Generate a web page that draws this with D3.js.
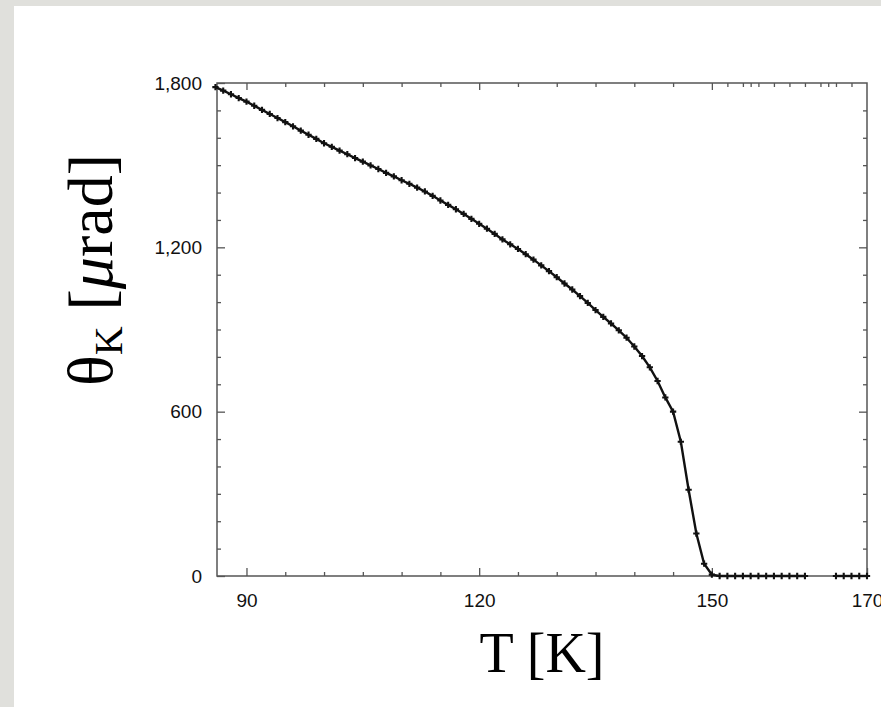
<!DOCTYPE html>
<html>
<head>
<meta charset="utf-8">
<script src="https://cdn.jsdelivr.net/npm/d3@7"></script>
<style>
  body { margin: 0; background: #e0e0dc; }
  #chart { position: absolute; left: 0; top: 0; }
</style>
</head>
<body>
<div id="chart"></div>
<script>
// temperature (K) and Kerr rotation (µrad)
var temps = [86, 87, 88, 89, 90, 91, 92, 93, 94, 95, 96, 97, 98, 99, 100,
  101, 102, 103, 104, 105, 106, 107, 108, 109, 110, 111, 112, 113, 114, 115,
  116, 117, 118, 119, 120, 121, 122, 123, 124, 125, 126, 127, 128, 129, 130,
  131, 132, 133, 134, 135, 136, 137, 138, 139, 140, 141, 142, 143, 144, 145,
  146, 147, 148, 149, 150,
  151, 152, 153, 154, 155, 156, 157, 158, 159, 160, 161, 162,
  166, 167, 168, 169, 170];
var kerr = [1785, 1772, 1759, 1745, 1732, 1717, 1702, 1687, 1672, 1657, 1642, 1626, 1611, 1596, 1580,
  1567, 1553, 1540, 1526, 1513, 1499, 1486, 1472, 1459, 1445, 1432, 1418, 1404, 1388, 1371,
  1355, 1339, 1322, 1304, 1286, 1268, 1249, 1229, 1211, 1194, 1175, 1155, 1134, 1113, 1091,
  1068, 1046, 1022, 997, 971, 946, 922, 897, 870, 838, 803, 762, 712, 652, 600,
  490, 315, 155, 45, 5,
  0, 0, 0, 0, 0, 0, 0, 0, 0, 0, 0, 0,
  0, 0, 0, 0, 0];

var xMajor = [90, 120, 150, 170];
var xMinor = [95, 100, 105, 110, 115, 125, 130, 135, 140, 145];
var xTopExtra = [152, 154, 155, 156, 158, 160, 162, 164, 165, 166, 168];
var yMajor = [0, 600, 1200, 1800];
var yMinor = [100, 200, 300, 400, 500, 700, 800, 900, 1000, 1100, 1300, 1400, 1500, 1600, 1700];

var W = 881, H = 707;
var margin = {top: 83, right: 14, bottom: 131, left: 217},
    width = W - margin.left - margin.right,
    height = H - margin.top - margin.bottom;

var svg = d3.select("#chart").append("svg")
    .attr("width", W)
    .attr("height", H);

// white panel over the grey page
svg.append("rect")
    .attr("x", 14).attr("y", 6)
    .attr("width", W - 14).attr("height", H - 6)
    .attr("fill", "#ffffff");

var g = svg.append("g")
    .attr("transform", "translate(" + margin.left + "," + margin.top + ")");

var x = d3.scaleLinear().domain([86.2, 170]).range([0, width]);
var y = d3.scaleLinear().domain([0, 1800]).range([height, 0]);

var axisColor = "#555";
var tickFont = "'Liberation Sans', Arial, sans-serif";

function styleAxis(sel) {
    sel.select(".domain").remove();
    sel.selectAll(".tick line").attr("stroke", axisColor).attr("stroke-width", 1.3);
    sel.selectAll(".tick text")
        .attr("font-family", tickFont)
        .attr("font-size", 19)
        .attr("fill", "#111");
}

// bottom axis, ticks pointing in
g.append("g")
    .attr("transform", "translate(0," + height + ")")
    .call(d3.axisBottom(x).tickValues(xMinor).tickSize(-4).tickFormat(""))
    .call(styleAxis);
g.append("g")
    .attr("transform", "translate(0," + height + ")")
    .call(d3.axisBottom(x).tickValues(xMajor).tickSize(-8).tickPadding(18).tickFormat(d3.format("d")))
    .call(styleAxis);

// top axis
g.append("g")
    .call(d3.axisTop(x).tickValues(xMinor.concat(xTopExtra)).tickSize(-4).tickFormat(""))
    .call(styleAxis);
g.append("g")
    .call(d3.axisTop(x).tickValues([90, 120, 150]).tickSize(-7).tickFormat(""))
    .call(styleAxis);

// left axis
g.append("g")
    .call(d3.axisLeft(y).tickValues(yMinor).tickSize(-4).tickFormat(""))
    .call(styleAxis);
g.append("g")
    .call(d3.axisLeft(y).tickValues(yMajor).tickSize(-8).tickPadding(15).tickFormat(d3.format(",")))
    .call(styleAxis);

// right axis
g.append("g")
    .attr("transform", "translate(" + width + ",0)")
    .call(d3.axisRight(y).tickValues(yMinor).tickSize(-4).tickFormat(""))
    .call(styleAxis);
g.append("g")
    .attr("transform", "translate(" + width + ",0)")
    .call(d3.axisRight(y).tickValues([600, 1200]).tickSize(-8).tickFormat(""))
    .call(styleAxis);

// frame
g.append("rect")
    .attr("width", width).attr("height", height)
    .attr("fill", "none")
    .attr("stroke", axisColor)
    .attr("stroke-width", 1.5);

// data: split where temperatures are missing
var pts = temps.map(function(t, i) { return {t: t, v: kerr[i]}; });
var segments = [[]];
pts.forEach(function(p, i) {
    if (i > 0 && p.t - pts[i - 1].t > 1.5) segments.push([]);
    segments[segments.length - 1].push(p);
});

var line = d3.line()
    .x(function(d) { return x(d.t); })
    .y(function(d) { return y(d.v); });

g.selectAll(".seg")
    .data(segments)
    .enter().append("path")
    .attr("class", "seg")
    .attr("fill", "none")
    .attr("stroke", "#111")
    .attr("stroke-width", 2.4)
    .attr("d", line);

g.append("g")
    .selectAll("path")
    .data(pts)
    .enter().append("path")
    .attr("transform", function(d) { return "translate(" + x(d.t) + "," + y(d.v) + ")"; })
    .attr("d", d3.symbol().type(d3.symbolCross).size(22))
    .attr("fill", "#111");

// axis titles
var serif = "'Liberation Serif', 'Times New Roman', serif";

svg.append("text")
    .attr("x", 542).attr("y", 672)
    .attr("text-anchor", "middle")
    .attr("font-family", serif)
    .attr("font-size", 56)
    .attr("fill", "#000")
    .text("T [K]");

var yl = svg.append("text")
    .attr("transform", "translate(112,270) rotate(-90)")
    .attr("text-anchor", "middle")
    .attr("font-family", serif)
    .attr("font-size", 64)
    .attr("fill", "#000");
yl.append("tspan").text("θ");
yl.append("tspan").attr("font-size", 40).attr("dy", 10).text("K");
yl.append("tspan").attr("dy", -10).text(" [");
yl.append("tspan").attr("font-style", "italic").text("μ");
yl.append("tspan").text("rad]");
</script>
</body>
</html>
